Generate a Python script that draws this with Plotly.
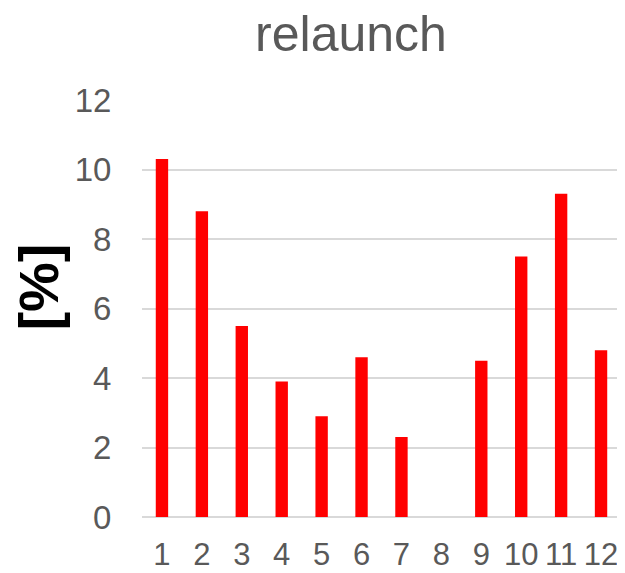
import plotly.graph_objects as go

categories = ["1", "2", "3", "4", "5", "6", "7", "8", "9", "10", "11", "12"]
values = [10.3, 8.8, 5.5, 3.9, 2.9, 4.6, 2.3, 0, 4.5, 7.5, 9.3, 4.8]
y_ticks = [0, 2, 4, 6, 8, 10, 12]
title_text = "relaunch"
y_label = "[%]"

FONT = "Liberation Sans, Arial, sans-serif"
GRAY = "#595959"

# page body has an 8px default margin; figure sized/placed to compensate
W, H = 617, 565

fig = go.Figure(go.Bar(
    x=categories, y=values,
    marker=dict(color="#FF0000", line=dict(width=0)),
    width=0.31,
))

fig.update_layout(
    width=W, height=H,
    margin=dict(l=133.5, r=4, t=92, b=56, pad=0),
    paper_bgcolor="white", plot_bgcolor="white",
    showlegend=False,
    title=dict(text=title_text, x=(351-8)/W, xanchor="center", y=1-(33-8)/H, yanchor="middle",
               xref="container", yref="container", automargin=False,
               font=dict(family=FONT, size=50, color=GRAY)),
    xaxis=dict(type="category", range=[-0.5, 11.5], showgrid=False, zeroline=False,
               tickmode="array", tickvals=categories, ticktext=categories, tickangle=0,
               automargin=False,
               showline=False, ticks="outside", ticklen=10, tickcolor="rgba(0,0,0,0)",
               tickfont=dict(family=FONT, size=31, color=GRAY)),
    yaxis=dict(range=[0, 12], tickvals=y_ticks, showgrid=True, gridcolor="#D9D9D9", gridwidth=2,
               automargin=False,
               zeroline=True, zerolinecolor="#D9D9D9", zerolinewidth=2, showline=False,
               ticks="outside", ticklen=23, tickcolor="rgba(0,0,0,0)",
               tickfont=dict(family=FONT, size=33, color=GRAY)),
    annotations=[dict(text="<b>" + y_label + "</b>", textangle=-90, xref="paper", yref="paper",
                      x=(37-141.5)/479.5, y=(517-287)/417, xanchor="center", yanchor="middle",
                      showarrow=False, font=dict(family=FONT, size=56, color="black"))],
)

fig.write_html("out.html")
